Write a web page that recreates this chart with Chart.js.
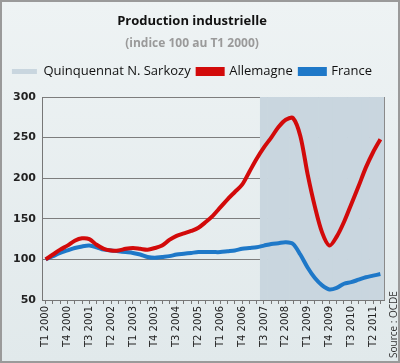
<!DOCTYPE html>
<html>
<head>
<meta charset="utf-8">
<script src="https://cdn.jsdelivr.net/npm/chart.js@4"></script>
<style>
  html, body { margin: 0; padding: 0; background: #e8eef0; }
  #wrap { width: 400px; height: 363px; }
</style>
</head>
<body>
<div id="wrap"><canvas id="chart" width="400" height="363"></canvas></div>
<script>
// quarters T1 2000 .. T3 2011
const quarters = [];
for (let y = 2000; y <= 2011; y++) {
    for (let q = 1; q <= 4; q++) {
        if (y === 2011 && q > 3) break;
        quarters.push("T" + q + " " + y);
    }
}

const allemagne = [100, 106, 112, 117, 123, 126, 125, 118, 113, 111, 111, 113, 114, 113, 112, 114,
                   117, 124, 129, 132, 135, 139, 146, 154, 164, 174, 183, 192, 208, 224, 238, 250,
                   263, 272, 274, 252, 205, 165, 133, 117, 128, 146, 168, 190, 213, 232, 248];

const france = [100, 104, 108, 111, 114, 116, 117, 115, 112, 111, 110, 109, 108, 106, 103, 102,
                103, 104, 106, 107, 108, 109, 109, 109, 109, 110, 111, 113, 114, 115, 117, 119,
                120, 121, 119, 106, 90, 77, 68, 63, 65, 70, 72, 75, 78, 80, 82];

// Quinquennat N. Sarkozy starts T3 2007
const quinquennatStart = "T3 2007";
const startIdx = quarters.indexOf(quinquennatStart);
const quinquennat = quarters.map((q, i) => i >= startIdx ? [50, 300] : null);

const yTicks = [50, 100, 150, 200, 250, 300];

const frame = {
    id: "frame",
    afterInit(chart) {
        // a bit more room between legend and plot
        const fit = chart.legend.fit;
        chart.legend.fit = function () {
            fit.call(this);
            this.height += 9;
        };
    },
    beforeDraw(chart) {
        const ctx = chart.ctx;
        const g = ctx.createLinearGradient(0, 0, 0, chart.height);
        g.addColorStop(0, "#eef3f4");
        g.addColorStop(1, "#e1e9eb");
        ctx.save();
        ctx.fillStyle = g;
        ctx.fillRect(0, 0, chart.width, chart.height);
        ctx.strokeStyle = "#9a9a9a";
        ctx.lineWidth = 2;
        ctx.strokeRect(1, 1, chart.width - 2, chart.height - 2);
        ctx.restore();
    },
    afterDatasetsDraw(chart) {
        const a = chart.chartArea;
        const ctx = chart.ctx;
        ctx.save();
        ctx.strokeStyle = "#8a8a8a";
        ctx.lineWidth = 1;
        ctx.beginPath();
        ctx.moveTo(a.right + 0.5, a.top);
        ctx.lineTo(a.right + 0.5, a.bottom);
        ctx.stroke();
        ctx.restore();
    },
    afterDraw(chart) {
        const ctx = chart.ctx;
        ctx.save();
        ctx.translate(394, 358);
        ctx.rotate(-Math.PI / 2);
        ctx.fillStyle = "#333";
        ctx.font = "10px 'Open Sans'";
        ctx.textBaseline = "middle";
        ctx.fillText("Source : OCDE", 0, 0);
        ctx.restore();
    }
};

new Chart(document.getElementById("chart"), {
    data: {
        labels: quarters,
        datasets: [
            {
                type: "bar",
                label: "Quinquennat N. Sarkozy",
                data: quinquennat,
                backgroundColor: "#c9d6df",
                borderWidth: 0,
                barPercentage: 1,
                categoryPercentage: 1,
                order: 3
            },
            {
                type: "line",
                label: "Allemagne",
                data: allemagne,
                borderColor: "#d20a0a",
                backgroundColor: "#d20a0a",
                borderWidth: 4,
                pointRadius: 0,
                tension: 0.3,
                order: 1
            },
            {
                type: "line",
                label: "France",
                data: france,
                borderColor: "#1e78c8",
                backgroundColor: "#1e78c8",
                borderWidth: 4,
                pointRadius: 0,
                tension: 0.3,
                order: 2
            }
        ]
    },
    plugins: [frame],
    options: {
        responsive: false,
        animation: false,
        layout: { padding: { left: 0, right: 16, top: 7, bottom: 6 } },
        plugins: {
            tooltip: { enabled: false },
            title: {
                display: true,
                text: "Production industrielle",
                color: "#111",
                font: { family: "'Open Sans'", size: 13, weight: "bold" },
                padding: { top: 6, bottom: 8 }
            },
            subtitle: {
                display: true,
                text: "(indice 100 au T1 2000)",
                color: "#9a9a9a",
                font: { family: "'Open Sans'", size: 12, weight: "bold" },
                padding: { top: 0, bottom: 7 }
            },
            legend: {
                display: true,
                labels: {
                    color: "#111",
                    font: { family: "'Open Sans'", size: 13 },
                    boxWidth: 25,
                    boxHeight: 5,
                    padding: 7,
                    sort: (a, b) => a.datasetIndex - b.datasetIndex
                }
            }
        },
        scales: {
            x: {
                offset: true,
                grid: {
                    display: true,
                    drawOnChartArea: false,
                    drawTicks: true,
                    tickLength: 4,
                    color: "#777",
                    offset: false
                },
                border: { color: "#777" },
                ticks: {
                    autoSkip: false,
                    minRotation: 90,
                    maxRotation: 90,
                    color: "#222",
                    padding: 2,
                    font: { family: "'DejaVu Sans'", size: 10 },
                    callback: (v, i) => i % 3 === 0 ? quarters[i] : ""
                },
                afterFit: (s) => { s.height = 57; }
            },
            y: {
                min: 50,
                max: 300,
                afterBuildTicks: (s) => { s.ticks = yTicks.map(v => ({ value: v })); },
                grid: { color: "#7d7d7d", drawTicks: false },
                border: { color: "#777" },
                ticks: {
                    color: "#222",
                    padding: 6,
                    font: { family: "'DejaVu Sans'", size: 11, weight: "bold" }
                },
                afterFit: (s) => { s.width = 42; }
            }
        }
    }
});
</script>
</body>
</html>
